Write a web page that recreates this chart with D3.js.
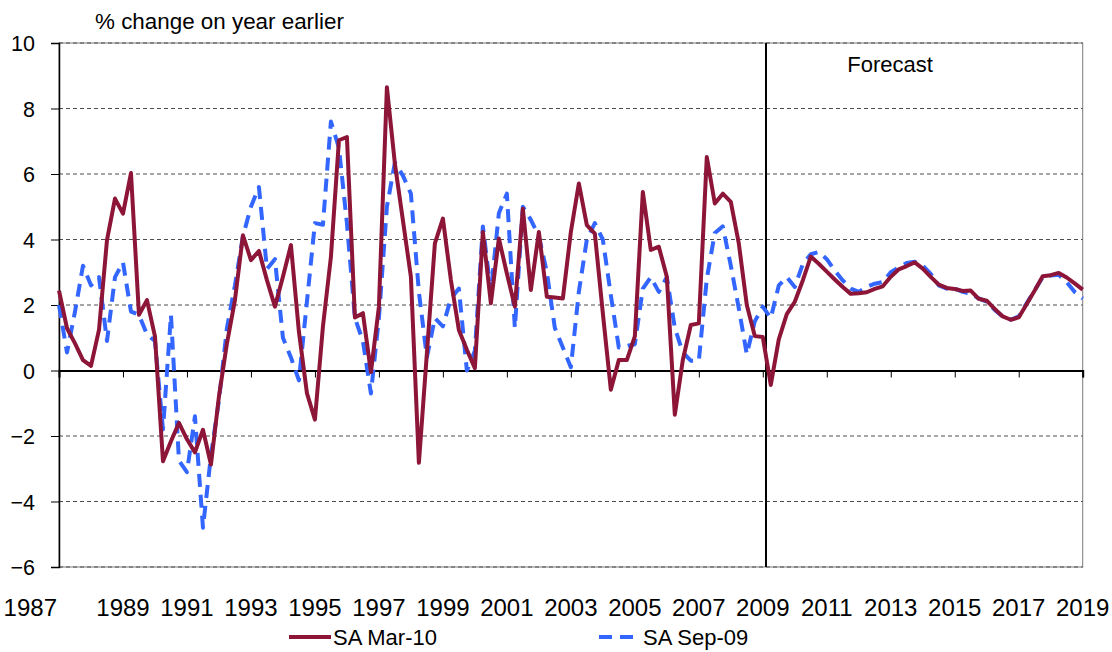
<!DOCTYPE html>
<html>
<head>
<meta charset="utf-8">
<script src="https://cdn.jsdelivr.net/npm/d3@7/dist/d3.min.js"></script>
<style>
  html, body { margin: 0; padding: 0; background: #fff; }
  svg { display: block; }
  text { font-family: "Liberation Sans", Arial, sans-serif; fill: #000; }
</style>
</head>
<body>
<svg id="chart" width="1112" height="652"></svg>
<script>
// ---------------- DATA ----------------
const startYear = 1987;           // first quarter = 1987 Q1
const seriesNames = ["SA Mar-10", "SA Sep-09"];
const yTicks = [-6, -4, -2, 0, 2, 4, 6, 8, 10];
const xTickYears = [1987, 1989, 1991, 1993, 1995, 1997, 1999, 2001, 2003, 2005, 2007, 2009, 2011, 2013, 2015, 2017, 2019];
const forecastStart = 2009.1;
const forecastLabel = "Forecast";
const yTitle = "% change on year earlier";

// SA Mar-10 (quarterly, 1987Q1 - 2019Q1)
const saMar10 = [
  2.44, 1.29, 0.83, 0.32, 0.14, 1.24, 3.98, 5.25, 4.79, 6.03,
  1.70, 2.15, 1.04, -2.77, -2.16, -1.60, -2.10, -2.50, -1.81, -2.87,
  -0.79, 0.83, 2.15, 4.13, 3.37, 3.65, 2.76, 1.95, 2.86, 3.83,
  1.18, -0.69, -1.50, 1.34, 3.47, 7.03, 7.13, 1.62, 1.75, -0.05,
  1.95, 8.65, 6.31, 4.59, 2.86, -2.82, 0.53, 3.88, 4.64, 2.76,
  1.24, 0.63, 0.07, 4.23, 2.05, 4.03, 2.96, 1.95, 4.94, 2.46,
  4.23, 2.25, 2.23, 2.20, 4.23, 5.71, 4.44, 4.18, 1.75, -0.59,
  0.32, 0.32, 1.04, 5.45, 3.68, 3.78, 2.86, -1.35, 0.32, 1.39,
  1.44, 6.52, 5.10, 5.40, 5.15, 3.88, 2.00, 1.05, 1.02, -0.44,
  0.95, 1.72, 2.10, 2.75, 3.48, 3.26, 3.02, 2.78, 2.55, 2.34,
  2.36, 2.39, 2.49, 2.57, 2.86, 3.09, 3.19, 3.30, 3.11, 2.86,
  2.62, 2.52, 2.49, 2.43, 2.44, 2.19, 2.13, 1.88, 1.65, 1.55,
  1.62, 2.03, 2.44, 2.88, 2.91, 2.98, 2.84, 2.66, 2.47
];

// SA Sep-09 (quarterly, 1987Q1 - 2019Q1)
const saSep09 = [
  2.00, 0.55, 1.80, 3.20, 2.60, 2.85, 0.90, 2.85, 3.30, 1.80,
  1.70, 1.10, 0.90, -1.80, 1.70, -2.75, -3.10, -1.40, -4.80, -2.60,
  -0.90, 1.30, 2.60, 4.10, 5.00, 5.60, 3.10, 3.40, 1.00, 0.40,
  -0.30, 2.10, 4.50, 4.45, 7.60, 6.80, 4.50, 1.60, 0.90, -0.70,
  1.60, 5.00, 6.35, 5.95, 5.40, 2.40, 0.40, 1.60, 1.35, 2.20,
  2.50, 0.00, 0.60, 4.40, 2.40, 4.80, 5.40, 1.30, 5.00, 4.60,
  4.10, 3.00, 1.30, 0.70, 0.10, 2.40, 4.00, 4.50, 4.00, 2.30,
  0.70, 0.75, 0.80, 2.50, 2.85, 2.40, 2.85, 1.30, 0.55, 0.30,
  0.30, 2.80, 4.20, 4.40, 3.20, 1.90, 0.50, 1.50, 1.95, 1.60,
  2.60, 2.85, 2.55, 3.25, 3.55, 3.62, 3.40, 3.05, 2.75, 2.50,
  2.40, 2.55, 2.65, 2.70, 3.00, 3.15, 3.28, 3.32, 3.20, 2.95,
  2.60, 2.50, 2.50, 2.40, 2.35, 2.20, 2.10, 1.85, 1.65, 1.55,
  1.65, 2.05, 2.45, 2.85, 2.90, 2.92, 2.70, 2.40, 2.20
];

// ---------------- CHART ----------------
const plot = { left: 59, right: 1082.7, top: 43, bottom: 567 };
const colors = { red: "#8C1538", blue: "#3366FF" };

const svg = d3.select("#chart");

const x = d3.scaleLinear().domain([1987, 2019]).range([plot.left, plot.right]);
const y = d3.scaleLinear().domain([-6, 10]).range([plot.bottom, plot.top]);

const t = i => startYear + i / 4;

// plot border
svg.append("rect")
  .attr("x", plot.left).attr("y", plot.top)
  .attr("width", plot.right - plot.left).attr("height", plot.bottom - plot.top)
  .attr("fill", "none").attr("stroke", "#7a7a7a").attr("stroke-width", 1);

// gridlines
svg.append("g").selectAll("line")
  .data(yTicks.filter(v => v !== 0))
  .join("line")
  .attr("x1", plot.left).attr("x2", plot.right)
  .attr("y1", d => y(d)).attr("y2", d => y(d))
  .attr("stroke", "#4d4d4d").attr("stroke-width", 1)
  .attr("stroke-dasharray", "4,3");

// y axis
const yAxis = d3.axisLeft(y).tickValues(yTicks).tickSize(8).tickPadding(16).tickFormat(d3.format("d"));
const gy = svg.append("g").attr("transform", `translate(${plot.left},0)`).call(yAxis);
gy.select(".domain").attr("stroke", "#000").attr("stroke-width", 1.5);
gy.selectAll(".tick line").attr("stroke", "#000").attr("stroke-width", 1);
gy.selectAll(".tick text")
  .style("font-size", "21.5px")
  .style("font-family", "Liberation Sans, Arial, sans-serif")
  .attr("dy", "0.36em");

// zero line with ticks
const xAxis = d3.axisBottom(x).tickValues(xTickYears).tickSize(7).tickFormat("");
const gx0 = svg.append("g").attr("transform", `translate(0,${y(0)})`).call(xAxis);
gx0.select(".domain").attr("stroke", "#000").attr("stroke-width", 2);
gx0.selectAll(".tick line").attr("stroke", "#000").attr("stroke-width", 1);

// x labels at bottom
svg.append("g").selectAll("text")
  .data(xTickYears)
  .join("text")
  .attr("x", (d, i) => i === 0 ? x(d) - 2 : x(d))
  .attr("y", 616)
  .attr("text-anchor", (d, i) => i === 0 ? "end" : "middle")
  .style("font-size", "24px")
  .text(d => d);

// forecast line
svg.append("line")
  .attr("x1", x(forecastStart)).attr("x2", x(forecastStart))
  .attr("y1", plot.top).attr("y2", plot.bottom)
  .attr("stroke", "#000").attr("stroke-width", 2);

svg.append("text")
  .attr("x", 890).attr("y", 72)
  .attr("text-anchor", "middle")
  .style("font-size", "22px")
  .text(forecastLabel);

// title
svg.append("text")
  .attr("x", 95).attr("y", 29)
  .style("font-size", "22.4px")
  .text(yTitle);

// lines
const line = d3.line().x((d, i) => x(t(i))).y(d => y(d));

svg.append("path")
  .datum(saSep09)
  .attr("d", line)
  .attr("fill", "none")
  .attr("stroke", colors.blue)
  .attr("stroke-width", 4)
  .attr("stroke-dasharray", "13,8")
  .attr("stroke-linejoin", "round");

svg.append("path")
  .datum(saMar10)
  .attr("d", line)
  .attr("fill", "none")
  .attr("stroke", colors.red)
  .attr("stroke-width", 4)
  .attr("stroke-linejoin", "round");

// legend
const legend = svg.append("g");
legend.append("line")
  .attr("x1", 289).attr("x2", 331).attr("y1", 637).attr("y2", 637)
  .attr("stroke", colors.red).attr("stroke-width", 4);
legend.append("text")
  .attr("x", 333).attr("y", 645)
  .style("font-size", "22px")
  .text(seriesNames[0]);
legend.append("line")
  .attr("x1", 599).attr("x2", 641).attr("y1", 637).attr("y2", 637)
  .attr("stroke", colors.blue).attr("stroke-width", 4)
  .attr("stroke-dasharray", "13,8");
legend.append("text")
  .attr("x", 643).attr("y", 645)
  .style("font-size", "22px")
  .text(seriesNames[1]);
</script>
</body>
</html>
